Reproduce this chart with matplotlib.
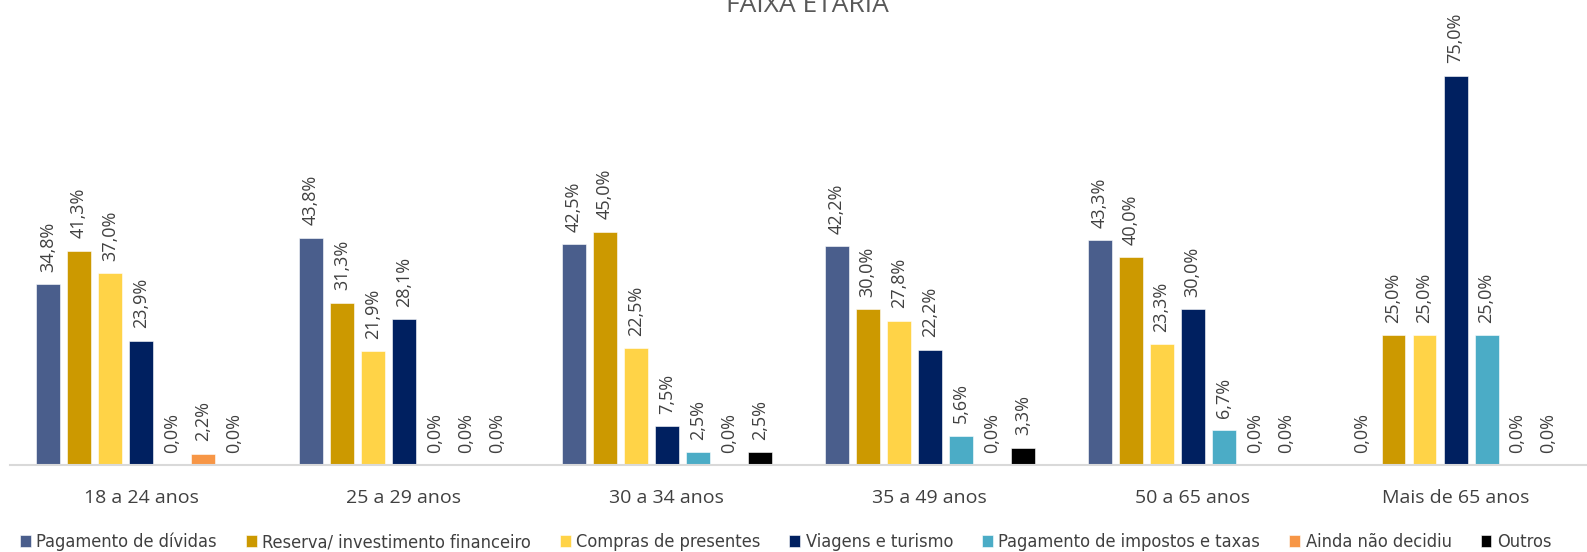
import numpy as np
import matplotlib.pyplot as plt

faixas = ['18 a 24 anos', '25 a 29 anos', '30 a 34 anos', '35 a 49 anos', '50 a 65 anos', 'Mais de 65 anos']
series = ['Pagamento de dívidas', 'Reserva/ investimento financeiro', 'Compras de presentes',
          'Viagens e turismo', 'Pagamento de impostos e taxas', 'Ainda não decidiu', 'Outros']
cores = ['#4a5e8c', '#cc9900', '#ffd347', '#002060', '#4bacc6', '#f79646', '#000000']

pagamento_dividas = [34.8, 43.8, 42.5, 42.2, 43.3, 0.0]
reserva = [41.3, 31.3, 45.0, 30.0, 40.0, 25.0]
compras = [37.0, 21.9, 22.5, 27.8, 23.3, 25.0]
viagens = [23.9, 28.1, 7.5, 22.2, 30.0, 75.0]
impostos = [0.0, 0.0, 2.5, 5.6, 6.7, 25.0]
nao_decidiu = [2.2, 0.0, 0.0, 0.0, 0.0, 0.0]
outros = [0.0, 0.0, 2.5, 3.3, 0.0, 0.0]
valores = [pagamento_dividas, reserva, compras, viagens, impostos, nao_decidiu, outros]

fig = plt.figure(figsize=(15.87, 5.52), dpi=100)
ax = fig.add_axes([0.006, 0.1576, 0.994, 0.752])

x = np.arange(len(faixas))
w = 0.091
step = 0.118
for i, (nome, vals, cor) in enumerate(zip(series, valores, cores)):
    pos = x + (i - 3) * step
    bars = ax.bar(pos, vals, width=w, color=cor, label=nome, edgecolor='white', linewidth=0.4)
    for b, v in zip(bars, vals):
        ax.annotate(f'{v:.1f}%'.replace('.', ','), xy=(b.get_x() + b.get_width() / 2, v),
                    xytext=(0, 9), textcoords='offset points', rotation=90,
                    ha='center', va='bottom', fontsize=13, color='#404040', family='Open Sans')

ax.set_xlim(-0.5, 5.5)
ax.set_ylim(0, 80)
ax.set_xticks(x)
ax.set_xticklabels(faixas, fontsize=14, color='#404040', family='Open Sans')
ax.tick_params(axis='x', length=0, pad=17)
ax.set_yticks([])
for s in ['top', 'left', 'right']:
    ax.spines[s].set_visible(False)
ax.spines['bottom'].set_color('#d9d9d9')
ax.spines['bottom'].set_linewidth(1.5)

fig.text(0.509, 1 - 12 / 552, 'FAIXA ETÁRIA', ha='center', va='baseline', fontsize=19,
         color='#595959', family='Open Sans')

# legenda: fonte condensada, tamanho ajustado para ocupar a largura da referencia
leg_size = 12.5
leg_prop = {'family': 'DejaVu Sans', 'stretch': 'condensed', 'size': leg_size}
leg = fig.legend(loc='center', bbox_to_anchor=(0.495, 0.018), ncol=7, frameon=False,
                 handlelength=0.6, handleheight=0.6, handletextpad=0.3, columnspacing=1.6,
                 prop=leg_prop)
fig.canvas.draw()
largura = leg.get_window_extent().width
leg.remove()
leg_prop['size'] = leg_size * 1550 / largura
leg = fig.legend(loc='center', bbox_to_anchor=(0.495, 0.018), ncol=7, frameon=False,
                 handlelength=0.6, handleheight=0.6, handletextpad=0.3, columnspacing=1.6,
                 prop=leg_prop)
for t in leg.get_texts():
    t.set_color('#404040')

fig.savefig('out.png', dpi=100)
